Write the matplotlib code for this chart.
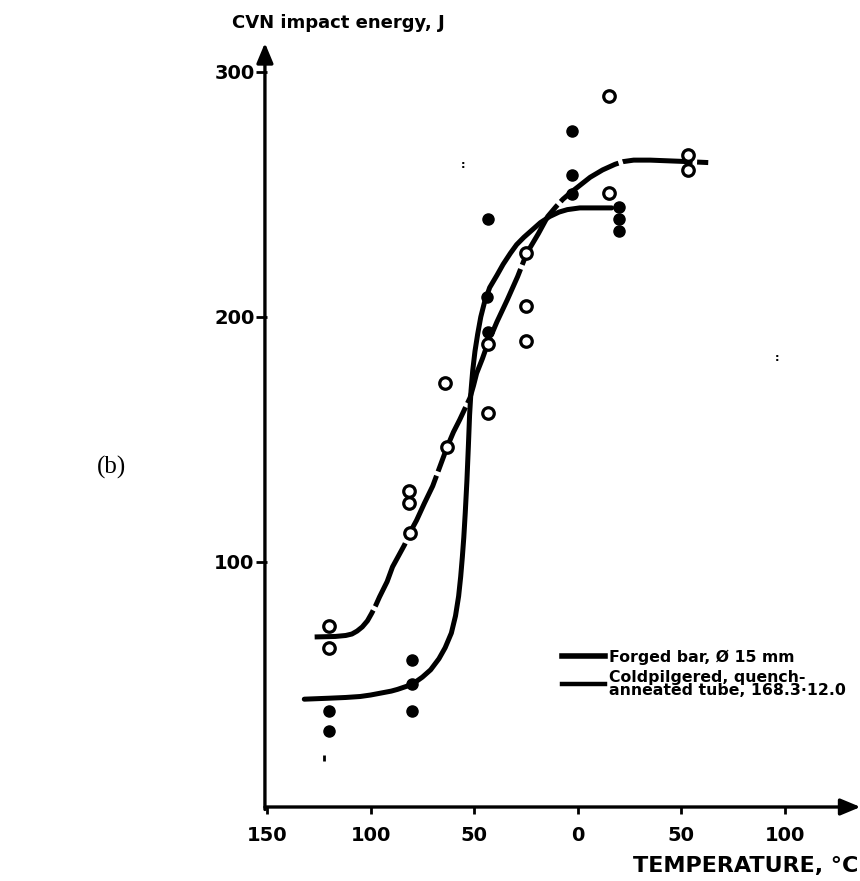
import matplotlib
matplotlib.use('Agg')
import matplotlib.pyplot as plt
from matplotlib.lines import Line2D

plt.rcParams['font.family'] = ['DejaVu Sans']
plt.rcParams['font.weight'] = 'bold'

# measured points (temperature degC, CVN energy J)
forged_T = [-120, -120, -80, -80, -80, -43.5, -44, -43.5, -3, -3, -3, 20, 20, 20]
forged_E = [39, 31, 60, 50, 39, 240, 208, 194, 276, 258, 250, 245, 240, 235]

tube_T = [-120, -120, -81.6, -81.6, -81, -64, -63, -43.5, -43.5, -25, -25, -25, 15, 15, 53, 53]
tube_E = [74, 65, 129, 124, 112, 173, 147, 161, 189, 190, 204.5, 226, 250.6, 290, 266, 260]

# fitted curves
forged_curve_T = [-132, -120, -112, -105, -100, -95, -90, -87, -80, -75, -71, -67, -64,
                  -61, -59, -57.5, -56.5, -55.7, -55, -54.3, -53.5, -52.8, -52.2,
                  -51.5, -50.7, -49.6, -48.3, -46.8, -45, -42.5, -39, -36, -32.5,
                  -29.5, -26, -22, -18, -13.5, -9, -5, 1, 16.4]
forged_curve_E = [44, 44.4, 44.7, 45.1, 45.7, 46.5, 47.3, 48, 50, 53, 56, 60.5, 65,
                  71, 78, 86, 94, 102, 110, 120, 133, 147, 160,
                  170, 178, 186, 193, 200, 206, 212, 217, 221.5, 226,
                  229.5, 232.5, 235.5, 238.5, 241, 242.8, 243.8, 244.5, 244.5]

tube_curve_T = [-127, -117, -112, -109, -106.5, -104, -101.5, -99.5, -97.5, -95.7, -92,
                -89.4, -83.6, -81, -77.8, -74, -70, -66.5, -63, -60, -57, -54.5, -52,
                -50.3, -48.8, -46, -43.5, -39, -34, -29, -24.6, -19, -14.5, -10.5,
                -7.2, -3.5, 0, 6, 12, 18, 22, 27, 35, 50, 63]
tube_curve_E = [69.4, 69.6, 70, 70.6, 71.8, 73.5, 76, 79, 82.3, 85.7, 92,
                98, 107, 112, 117, 124, 131, 139, 147, 153, 158, 162.5, 167,
                172, 177, 183, 189, 198, 207, 216.5, 226, 234, 241, 245,
                248, 250.7, 253, 257, 260, 262.3, 263.4, 264, 264, 263.5, 263]

x_ticks = [-150, -100, -50, 0, 50, 100]
x_labels = ['150', '100', '50', '0', '50', '100']
y_ticks = [100, 200, 300]

fig = plt.figure(figsize=(8.6, 8.81), dpi=100)
ax = fig.add_axes([267/860, 74/881, 591/860, 764/881])
ax.set_xlim(-150, 135.3)
ax.set_ylim(0, 311.8)
for s in ax.spines.values():
    s.set_visible(False)

# axes with arrow heads
arw = dict(arrowstyle='-|>,head_length=0.6,head_width=0.25', lw=2.4, color='black',
           mutation_scale=20, shrinkA=0, shrinkB=0)
ax.annotate('', xy=(136.5, 0), xytext=(-151, 0), arrowprops=arw, annotation_clip=False)
ax.annotate('', xy=(-151, 311.8), xytext=(-151, -1), arrowprops=arw, annotation_clip=False)

ax.set_xticks(x_ticks)
ax.set_xticklabels(x_labels)
ax.set_yticks(y_ticks)
ax.tick_params(axis='x', direction='out', length=5, width=2, pad=9, labelsize=14)
ax.tick_params(axis='y', direction='out', length=8, width=2, pad=1, labelsize=14)

l1, = ax.plot(forged_curve_T, forged_curve_E, color='black', lw=3.6,
              solid_capstyle='round', solid_joinstyle='round', zorder=2)
l2, = ax.plot(tube_curve_T, tube_curve_E, color='black', lw=3.6,
              dash_joinstyle='round', zorder=2)
l2.set_dashes((14, 0.9))

ax.plot(forged_T, forged_E, 'o', color='black', ms=8, zorder=3, clip_on=False)
ax.plot(tube_T, tube_E, 'o', mfc='white', mec='black', mew=2.3, ms=8.3, zorder=4,
        clip_on=False)
ax.plot([-122.7], [20], '|', color='black', ms=5, mew=2)

h1 = Line2D([], [], color='black', lw=4)
h2 = Line2D([], [], color='black', lw=3.2)
leg = ax.legend([h1, h2], ['Forged bar, Ø 15 mm',
                           'Coldpilgered, quench-\nanneated tube, 168.3·12.0'],
                loc='upper left', bbox_to_anchor=(0.499, 0.206), frameon=False,
                fontsize=11.3, handlelength=2.75, handletextpad=0.25, borderpad=0,
                borderaxespad=0, labelspacing=0.3)
for t in leg.get_texts():
    t.set_linespacing(0.85)

fig.text(232/860, 1 - 23/881, 'CVN impact energy, J', fontsize=13, ha='left', va='center')
fig.text(858/860, 1 - 866/881, 'TEMPERATURE, °C', fontsize=16, ha='right', va='center')
fig.text(112/860, 1 - 467/881, '(b)', fontsize=18, ha='center', va='center',
         family='Liberation Serif', weight='normal')

# specks from the scan
fig.text(463/860, 1 - 165/881, ':', fontsize=8, ha='center', va='center')
fig.text(777/860, 1 - 358/881, ':', fontsize=8, ha='center', va='center')

fig.savefig('out.png', dpi=100)
